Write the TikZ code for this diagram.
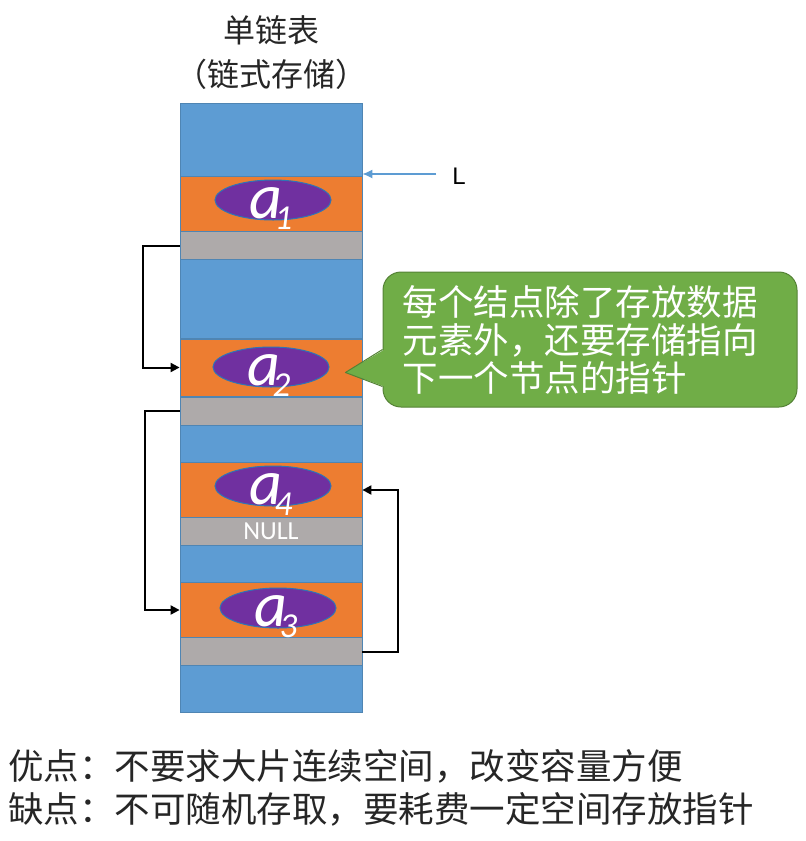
\documentclass[tikz,border=0pt]{standalone}
\usepackage{fontspec}
\setmainfont{Liberation Sans}
\newfontfamily\cjk{Noto Sans CJK SC}
\newfontfamily\calib{Carlito}
\usetikzlibrary{shapes.geometric,arrows.meta}

\definecolor{slotblue}{RGB}{93,156,211}
\definecolor{slotorange}{RGB}{237,125,49}
\definecolor{slotgray}{RGB}{174,170,170}
\definecolor{elempurple}{RGB}{112,48,160}
\definecolor{elemedge}{RGB}{47,117,181}
\definecolor{notegreen}{RGB}{112,173,71}
\definecolor{noteedge}{RGB}{84,130,53}

\newcommand{\elemlabel}[1]{{\fontsize{64}{64}\selectfont a}\kern-8pt\raisebox{-11pt}{\fontsize{35}{35}\selectfont #1}}

\begin{document}
\begin{tikzpicture}[x=1pt, y=-1pt,
		cell/.style={rectangle, draw=slotblue!85!black, line width=0.8pt, minimum width=182pt, inner sep=0pt},
		slotfree/.style={cell, fill=slotblue},
		slotdata/.style={cell, fill=slotorange, minimum height=55pt},
		slotlink/.style={cell, fill=slotgray, minimum height=28pt},
		elem/.style={ellipse, fill=elempurple, draw=elemedge, line width=1pt, minimum width=116pt, minimum height=40pt, inner sep=0pt},
		elemtext/.style={text=white, inner sep=0pt, anchor=base, font=\calib\itshape},
		ptr/.style={draw=black, line width=2pt, -{Triangle[length=9pt,width=9pt]}},
		lptr/.style={draw=slotblue, fill=slotblue, line width=1.2pt, -{Latex[length=10pt,width=9pt]}},
		note/.style={rectangle, rounded corners=18pt, fill=notegreen, draw=noteedge, line width=1pt, minimum width=414pt, minimum height=135pt, inner sep=0pt, text=white, text width=375pt, align=left, font=\cjk\fontsize{35.5}{38}\selectfont},
		heading/.style={font=\cjk\fontsize{32}{44}\selectfont, align=center, text=black!85},
		summary/.style={font=\cjk\fontsize{35.5}{40}\selectfont, anchor=west, inner sep=0pt, text=black!85}]
		\useasboundingbox (0,0) rectangle (806,841);
	
		\node[heading] (head) at (271,53) {单链表\\（链式存储）};
	
		% memory column
		\node[slotfree, minimum height=73pt] (f0) at (271,139.5) {};
		\node[slotdata] (n1) at (271,204) {};
		\node[slotlink] (p1) at (271,245.5) {};
		\node[slotfree, minimum height=79pt] (f1) at (271,299) {};
		\node[slotdata, minimum height=57pt] (n2) at (271,367.5) {};
		\node[slotlink] (p2) at (271,411) {};
		\node[slotfree, minimum height=37pt] (f2) at (271,444) {};
		\node[slotdata] (n4) at (271,490) {};
		\node[slotlink] (p4) at (271,531.5) {};
		\node[slotfree, minimum height=37pt] (f3) at (271,564) {};
		\node[slotdata] (n3) at (271,610) {};
		\node[slotlink] (p3) at (271,651.5) {};
		\node[slotfree, minimum height=47pt] (f4) at (271,689) {};
	
		\node[elem] (e1) at (273,200) {};
		\node[elem] (e2) at (271,367) {};
		\node[elem] (e4) at (273,486) {};
		\node[elem] (e3) at (278,608) {};
		\node[elemtext] (t1) at ([xshift=-2pt,yshift=-18pt]e1.center) {\elemlabel{1}};
		\node[elemtext] (t2) at ([xshift=-2pt,yshift=-18pt]e2.center) {\elemlabel{2}};
		\node[elemtext] (t4) at ([xshift=-2pt,yshift=-18pt]e4.center) {\elemlabel{4}};
		\node[elemtext] (t3) at ([xshift=-2pt,yshift=-18pt]e3.center) {\elemlabel{3}};
		\node[text=white, font=\calib\fontsize{26}{26}\selectfont, inner sep=0pt] (nul) at (p4.center) {NULL};
	
		\draw[ptr] (p1.west) -- ++(-37,0) |- (n2.west);
		\draw[ptr] (p2.west) -- ++(-35,0) |- (n3.west);
		\draw[ptr] (p3.east) -- ++(36,0) |- (n4.east);
	
		\node[font=\fontsize{24}{24}\selectfont, inner sep=0pt] (L) at (459,176) {L};
		\coordinate (Lfoot) at ([xshift=-16pt,yshift=2pt]L.west);
		\draw[lptr] (Lfoot) -- (Lfoot -| n1.east);
	
		% callout
		\node[note] (tip) at (590,339.5) {每个结点除了存放数据\\元素外，还要存储指向\\下一个节点的指针};
		\coordinate (pin) at ([xshift=-17pt,yshift=-5pt]n2.east);
		\fill[notegreen] ([xshift=2pt,yshift=-10pt]tip.west) -- (pin) -- ([xshift=2pt,yshift=-47pt]tip.west) -- cycle;
		\draw[noteedge, line width=1pt, line join=round] ([yshift=-10pt]tip.west) -- (pin) -- ([yshift=-47pt]tip.west);
	
		\node[summary] (pros) at (8,766) {优点：不要求大片连续空间，改变容量方便};
		\node[summary] (cons) at (8,809) {缺点：不可随机存取，要耗费一定空间存放指针};
	\end{tikzpicture}
\end{document}
